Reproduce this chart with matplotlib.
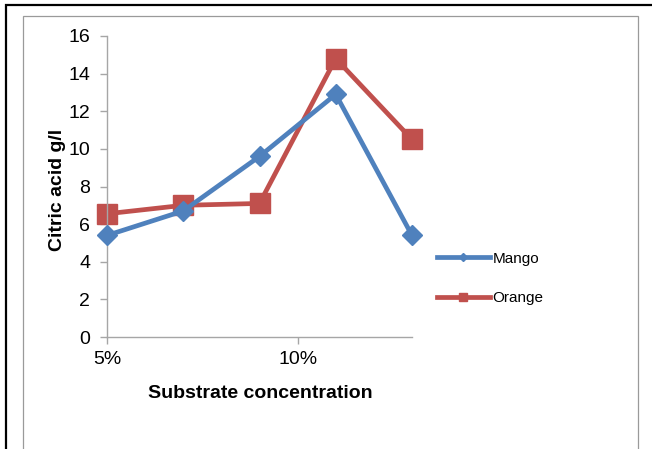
import matplotlib
matplotlib.use("Agg")
import matplotlib.pyplot as plt
from matplotlib.patches import Rectangle
from matplotlib.ticker import FixedLocator, FuncFormatter

plt.rcParams['font.family'] = ['Liberation Sans', 'DejaVu Sans']

# Substrate concentration (fraction) and citric acid yield (g/l)
concentration = [0.05, 0.07, 0.09, 0.11, 0.13]
mango = [5.4, 6.7, 9.6, 12.9, 5.4]
orange = [6.55, 7.0, 7.1, 14.8, 10.5]
x_ticks = [0.05, 0.10]
y_ticks = [0, 2, 4, 6, 8, 10, 12, 14, 16]

W, H = 652, 449
fig = plt.figure(figsize=(W / 100, H / 100), dpi=100)

# outer black border and inner grey chart frame
outer_top = 1 - 5.5 / H
fig.patches.append(Rectangle((5.5 / W, -0.1), 2.0, outer_top + 0.1,
                             transform=fig.transFigure, fill=False,
                             edgecolor='black', linewidth=1.6))
inner_top = 1 - 16.5 / H
fig.patches.append(Rectangle((22.5 / W, -0.1), (638 - 22.5) / W, inner_top + 0.1,
                             transform=fig.transFigure, fill=False,
                             edgecolor='#9a9a9a', linewidth=0.9))

x0, x1, y0, y1 = 107, 412, 337, 36
ax = fig.add_axes([x0 / W, 1 - y0 / H, (x1 - x0) / W, (y0 - y1) / H])

blue = '#4F81BD'
red = '#C0504D'
ax.plot(concentration, mango, color=blue, linewidth=3.4, marker='D',
        markersize=10.5, label='Mango', zorder=3, clip_on=False)
ax.plot(concentration, orange, color=red, linewidth=3.4, marker='s',
        markersize=14, label='Orange', zorder=2, clip_on=False)

ax.set_xlim(0.05, 0.13)
ax.set_ylim(0, 16)
ax.xaxis.set_major_locator(FixedLocator(x_ticks))
ax.xaxis.set_major_formatter(FuncFormatter(lambda v, p: f"{v * 100:.0f}%"))
ax.yaxis.set_major_locator(FixedLocator(y_ticks))

for side in ('top', 'right'):
    ax.spines[side].set_visible(False)
for side in ('left', 'bottom'):
    ax.spines[side].set_color('#a6a6a6')
    ax.spines[side].set_linewidth(1.0)

ax.tick_params(axis='both', direction='out', length=5, width=1.0,
               color='#a6a6a6', labelsize=14, labelcolor='black')
ax.tick_params(axis='y', pad=7)
ax.tick_params(axis='x', pad=5)

ax.set_ylabel('Citric acid g/l', fontsize=14, fontweight='bold')
ax.yaxis.set_label_coords(-(x0 - 66) / (x1 - x0), (y0 - 190) / (y0 - y1))
ax.set_xlabel('Substrate concentration', fontsize=14, fontweight='bold')
ax.xaxis.set_label_coords((260 - x0) / (x1 - x0), -(385 - y0) / (y0 - y1))
ax.xaxis.label.set_va('top')

leg = fig.legend(loc='upper left', bbox_to_anchor=(423 / W, 1 - 238 / H),
                 frameon=False, fontsize=11, handlelength=3.5,
                 handletextpad=0.15, labelspacing=1.65, markerscale=0.4)

fig.savefig('out.png', dpi=100)
